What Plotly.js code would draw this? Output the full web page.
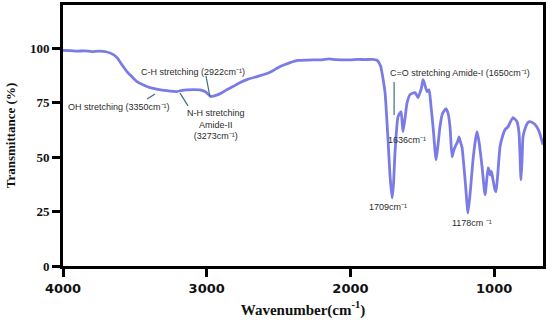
<!DOCTYPE html>
<html>
<head>
<meta charset="utf-8">
<script src="https://cdn.plot.ly/plotly-3.0.1.min.js"></script>
<style>html,body{margin:0;padding:0;background:#fff;}#chart{width:550px;height:320px;}</style>
</head>
<body>
<div id="chart"></div>
<script>
const wavenumber = [4000,3950,3900,3850,3800,3750,3700,3650,3624,3590,3555,3520,3485,3440,3395,3340,3276,3207,3170,3137,3090,3047,3012,2990,2970,2955,2942,2894,2860,2817,2770,2720,2650,2580,2540,2504,2460,2420,2365,2300,2200,2150,2100,2000,1950,1900,1850,1815,1790,1773,1759,1740,1725,1710,1700,1690,1669,1648,1640,1634,1620,1606,1585,1550,1530,1516,1505,1495,1485,1467,1453,1440,1425,1404,1390,1377,1360,1335,1320,1307,1293,1282,1270,1255,1244,1230,1223,1200,1182,1165,1147,1130,1119,1105,1084,1063,1042,1035,1028,1020,1014,994,987,975,959,940,924,903,885,868,850,841,827,813,805,799,780,765,750,730,715,695,680,660];
const transmittance = [99.1,99.0,98.8,98.9,98.6,98.8,98.5,97.2,95.8,92.5,89.4,87.0,84.8,83.2,82.0,81.2,80.6,80.2,80.8,81.0,81.1,81.0,80.2,79.0,77.9,78.1,78.3,79.7,81.0,82.5,84.3,85.7,87.1,88.5,89.8,91.2,92.5,93.5,94.5,94.7,94.8,95.2,94.9,94.8,95.0,94.9,95.0,94.6,92.0,86.0,79.7,60.0,42.0,31.3,38.0,52.0,68.6,71.0,66.0,61.8,68.0,75.0,78.8,79.7,77.4,79.7,82.0,85.7,84.0,80.2,81.0,74.0,64.0,48.8,56.0,64.0,70.0,72.4,70.0,64.0,50.2,53.0,55.0,57.0,59.4,56.0,54.4,38.0,24.4,35.0,48.8,58.0,61.8,57.0,45.6,32.7,45.2,44.0,41.9,43.5,41.9,35.0,34.1,42.0,54.8,60.0,62.7,64.0,66.5,68.2,67.2,66.4,61.3,39.6,50.0,59.4,64.0,66.0,66.4,65.8,65.0,63.0,60.4,55.8];
const xTicks = [4000,3000,2000,1000];
const yTicks = [0,25,50,75,100];

const annText = ["OH stretching (3350cm⁻¹)","C-H stretching (2922cm⁻¹)","N-H stretching<br>Amide-II<br>(3273cm⁻¹)","C=O stretching Amide-I (1650cm⁻¹)","1636cm⁻¹","1709cm⁻¹","1178cm ⁻¹"];
const annX = [3610,3095,2935,1738,1606,1738,1153];
const annY = [73.1,89.2,65.0,88.7,57.9,27.1,19.8];
const annAnchor = ["center","center","center","left","center","center","center"];

const lineColor = "#3e6f7c";
const leaders = [
  [3360,79.1,3415,76.8],
  [3005,87.4,2977,77.7],
  [3186,79.5,3130,73.6],
  [1696,84.6,1696,69.4]
];

const trace = {
  x: wavenumber, y: transmittance, type: 'scatter', mode: 'lines',
  line: {color: '#7b7be6', width: 2.8, shape: 'spline', smoothing: 0.5},
  hoverinfo: 'skip'
};

const annotations = annText.map((t,i)=>({
  x: annX[i], y: annY[i], xref:'x', yref:'y', text: t, showarrow:false,
  xanchor: annAnchor[i], yanchor:'middle',
  font:{family:'Liberation Sans, Arial, sans-serif', size:9, color:'#2b2b2b'}
}));

const shapes = leaders.map(l=>({type:'line', xref:'x', yref:'y', x0:l[0], y0:l[1], x1:l[2], y1:l[3], line:{color:lineColor, width:1.2}}));

const layout = {
  width:550, height:320,
  margin:{l:63, r:7, t:5, b:54},
  paper_bgcolor:'#fff', plot_bgcolor:'#fff',
  showlegend:false,
  xaxis:{
    range:[4000,660], tickvals:xTicks, ticktext:xTicks.map(String),
    ticks:'outside', ticklen:8, tickwidth:3, tickcolor:'#000',
    showline:true, linewidth:3, linecolor:'#000', mirror:true,
    showgrid:false, zeroline:false,
    tickfont:{family:'DejaVu Sans, Arial, sans-serif', size:13, color:'#111', weight:'bold'},
    title:{text:'<b>Wavenumber(cm<sup>-1</sup>)</b>', font:{family:'Liberation Serif, Times New Roman, serif', size:15, color:'#111'}, standoff:10}
  },
  yaxis:{
    range:[0,120], tickvals:yTicks, ticktext:yTicks.map(String),
    ticks:'outside', ticklen:8, tickwidth:3, tickcolor:'#000',
    showline:true, linewidth:3, linecolor:'#000', mirror:true,
    showgrid:false, zeroline:false,
    tickfont:{family:'Liberation Serif, Times New Roman, serif', size:13, color:'#111', weight:'bold'},
    title:{text:'<b>Transmittance (%)</b>', font:{family:'Liberation Serif, Times New Roman, serif', size:13, color:'#111'}, standoff:12}
  },
  annotations: annotations,
  shapes: shapes
};

Plotly.newPlot('chart', [trace], layout, {displayModeBar:false, staticPlot:true});
</script>
</body>
</html>
